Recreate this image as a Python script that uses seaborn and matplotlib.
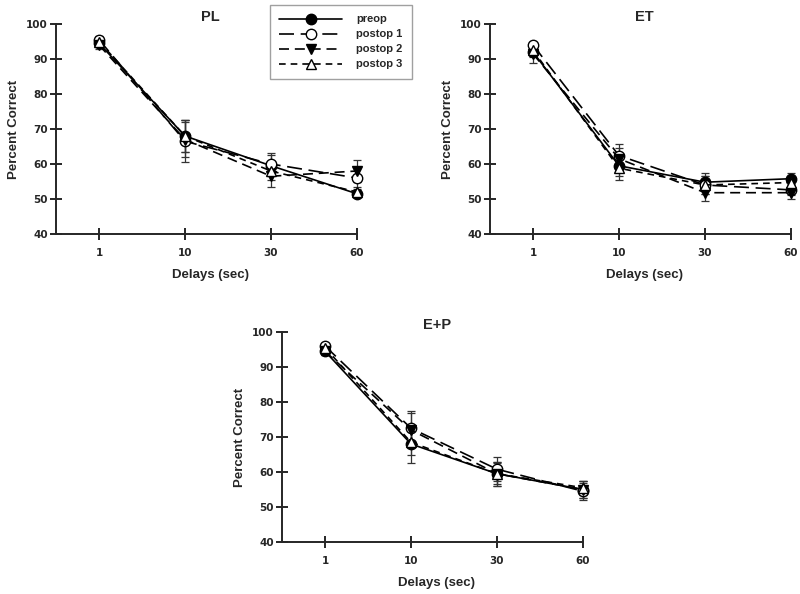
import numpy as np
import pandas as pd
import matplotlib
matplotlib.use("Agg")
import matplotlib.pyplot as plt
import seaborn as sns

sns.set_style("ticks")
plt.rcParams['font.family'] = ['Liberation Sans', 'DejaVu Sans']
plt.rcParams['font.weight'] = 'bold'

delays = ["1", "10", "30", "60"]
groups = ["preop", "postop 1", "postop 2", "postop 3"]

# PL
pl_preop = [94.5, 68.0, 59.5, 51.5]
pl_post1 = [95.5, 66.5, 60.0, 56.0]
pl_post2 = [94.0, 67.0, 56.5, 58.0]
pl_post3 = [95.0, 68.0, 58.0, 52.0]
pl_err = [[1.0, 4.5, 3.0, 1.0], [1.2, 6.0, 3.2, 3.0], [1.0, 5.0, 3.0, 3.2], [1.0, 4.5, 2.5, 1.5]]

# ET
et_preop = [92.0, 59.5, 54.8, 55.8]
et_post1 = [94.0, 62.4, 54.0, 52.6]
et_post2 = [91.5, 61.5, 51.8, 51.8]
et_post3 = [92.5, 58.8, 54.0, 54.7]
et_err = [[1.5, 3.0, 2.5, 1.5], [0.8, 3.3, 2.5, 1.5], [2.5, 3.0, 2.5, 1.8], [1.5, 3.5, 2.5, 1.5]]

# E+P
ep_preop = [94.5, 68.0, 59.5, 55.0]
ep_post1 = [96.0, 72.5, 60.8, 54.5]
ep_post2 = [94.5, 72.0, 59.5, 55.0]
ep_post3 = [95.5, 68.5, 59.5, 55.5]
ep_err = [[1.0, 5.5, 3.5, 2.5], [1.0, 5.0, 3.5, 2.5], [1.0, 5.0, 3.5, 2.5], [1.0, 3.5, 3.0, 2.0]]

panels = [
    ("PL", [pl_preop, pl_post1, pl_post2, pl_post3], pl_err),
    ("ET", [et_preop, et_post1, et_post2, et_post3], et_err),
    ("E+P", [ep_preop, ep_post1, ep_post2, ep_post3], ep_err),
]

styles = {
    "preop": dict(marker="o", markerfacecolor="black", linestyle="-"),
    "postop 1": dict(marker="o", markerfacecolor="white", linestyle=(0, (9, 4))),
    "postop 2": dict(marker="v", markerfacecolor="black", linestyle=(0, (6, 3.5))),
    "postop 3": dict(marker="^", markerfacecolor="white", linestyle=(0, (4, 3))),
}

fig = plt.figure(figsize=(8, 5.94), dpi=100)
W = 3.6 * 86 / 800
H = 210 / 594
axes_pos = [
    [56 / 800, 360 / 594, W, H],
    [490 / 800, 360 / 594, W, H],
    [282 / 800, 52 / 594, W, H],
]

pos = np.arange(len(delays))
for (title, series, errs), rect in zip(panels, axes_pos):
    ax = fig.add_axes(rect)
    for g, vals, err in zip(groups, series, errs):
        ax.errorbar(pos, vals, yerr=err, fmt="none", ecolor="#333333",
                    elinewidth=0.9, capsize=3, capthick=0.9, zorder=2)
    for g, vals in zip(groups, series):
        df = pd.DataFrame({"pos": pos, "value": vals})
        st = styles[g]
        sns.lineplot(data=df, x="pos", y="value", ax=ax, color="black",
                     linewidth=1.2, marker=st["marker"], markersize=7.5,
                     markerfacecolor=st["markerfacecolor"], markeredgecolor="black",
                     markeredgewidth=1.0, linestyle=st["linestyle"],
                     label=g, clip_on=False, zorder=3)
    ax.set_xlim(-0.5, 3.1)
    ax.set_ylim(40, 100)
    ax.set_xticks(pos)
    ax.set_xticklabels(delays)
    ax.set_yticks(np.arange(40, 101, 10))
    sns.despine(ax=ax)
    ax.spines["bottom"].set_bounds(-0.5, 3)
    for s in ["left", "bottom"]:
        ax.spines[s].set_linewidth(1.4)
    ax.tick_params(direction="inout", length=8, width=1.4)
    ax.tick_params(axis="x", pad=6)
    ax.tick_params(axis="y", pad=2)
    for lab in ax.get_xticklabels() + ax.get_yticklabels():
        lab.set_fontfamily("DejaVu Sans")
        lab.set_fontsize(7.5)
        lab.set_fontweight("bold")
    ax.set_xlabel("Delays (sec)", fontsize=9.5, fontweight="bold", labelpad=8)
    ax.set_ylabel("Percent Correct", fontsize=9.5, fontweight="bold", labelpad=4.5)
    ax.set_title(title, fontsize=10.5, fontweight="bold", pad=0)
    if title == "PL":
        handles, labels = ax.get_legend_handles_labels()
    if ax.get_legend():
        ax.get_legend().remove()

leg = fig.legend(handles, labels, loc="upper left", bbox_to_anchor=(270 / 800, 1 - 5 / 594),
                 fontsize=8, handlelength=5.6, frameon=True, fancybox=False,
                 edgecolor="#888888", borderpad=0.85, labelspacing=0.45, handletextpad=1.3,
                 borderaxespad=0)
leg.get_frame().set_linewidth(1.0)

fig.savefig("out.png", dpi=100)
